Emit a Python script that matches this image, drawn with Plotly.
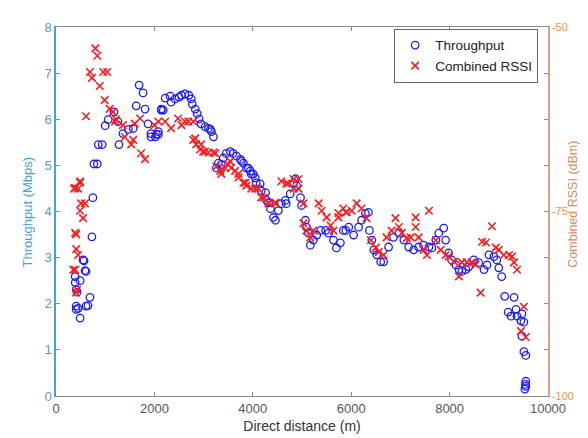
import plotly.graph_objects as go

# Throughput (Mbps) vs direct distance (m)
tp_dist = [390, 390, 410, 430, 410, 410, 450, 490, 490, 550, 570, 590, 610, 610, 650, 690, 730, 750,
           770, 840, 860, 940, 1000, 1060, 1180, 1260, 1280, 1360, 1470, 1570, 1630, 1690, 1770, 1810,
           1870, 1930, 1930, 2020, 2040, 2080, 2080, 2140, 2140, 2180, 2220, 2320, 2340, 2420, 2500,
           2550, 2620, 2700, 2750, 2770, 2830, 2870, 2910, 2950, 3030, 3100, 3140, 3160, 3200, 3260,
           3300, 3360, 3400, 3460, 3540, 3600, 3670, 3750, 3770, 3810, 3870, 3910, 3950, 3970, 4010,
           4050, 4070, 4150, 4170, 4260, 4280, 4320, 4360, 4420, 4460, 4520, 4580, 4660, 4680, 4760,
           4830, 4870, 4890, 4970, 4990, 5070, 5090, 5130, 5170, 5230, 5300, 5380, 5480, 5540, 5640,
           5700, 5780, 5840, 5890, 5950, 6050, 6150, 6210, 6290, 6350, 6370, 6420, 6460, 6520, 6600,
           6660, 6760, 6860, 6970, 7070, 7170, 7270, 7370, 7470, 7580, 7640, 7720, 7780, 7880, 7920,
           7980, 8040, 8130, 8190, 8250, 8330, 8390, 8490, 8590, 8700, 8760, 8800, 8900, 8960, 9000,
           9060, 9120, 9190, 9250, 9310, 9350, 9370, 9450, 9470, 9470, 9510, 9510, 9550, 9550, 9550,
           9530, 9540]
tp_mbps = [2.59, 2.46, 2.31, 2.25, 1.95, 1.88, 1.90, 1.69, 2.50, 2.95, 2.93, 2.72, 2.70, 1.95, 1.96,
           2.14, 3.45, 4.30, 5.03, 5.03, 5.45, 5.45, 5.86, 5.99, 6.16, 5.95, 5.45, 5.69, 5.78, 5.80,
           6.29, 6.74, 6.57, 6.22, 5.90, 5.69, 5.62, 5.62, 5.67, 5.73, 5.67, 6.22, 6.20, 6.20, 6.46,
           6.50, 6.37, 6.44, 6.48, 6.52, 6.55, 6.52, 6.44, 6.33, 6.22, 6.12, 6.01, 5.90, 5.84, 5.80,
           5.78, 5.73, 5.62, 4.94, 5.05, 5.02, 5.16, 5.26, 5.30, 5.26, 5.20, 5.13, 5.09, 5.05, 4.94,
           4.94, 4.88, 4.81, 4.81, 4.73, 4.62, 4.60, 4.45, 4.41, 4.24, 4.19, 4.06, 3.87, 3.81, 4.02,
           4.17, 4.24, 4.17, 4.38, 4.62, 4.71, 4.56, 4.30, 4.13, 3.81, 3.66, 3.53, 3.27, 3.38, 3.49,
           3.59, 3.59, 3.53, 3.38, 3.21, 3.32, 3.59, 3.59, 3.66, 3.49, 3.66, 3.81, 3.96, 3.98, 3.59,
           3.38, 3.17, 3.06, 2.91, 2.91, 3.23, 3.44, 3.53, 3.38, 3.23, 3.17, 3.23, 3.27, 3.23, 3.21,
           3.38, 3.53, 3.64, 3.38, 3.10, 2.95, 2.84, 2.74, 2.70, 2.74, 2.80, 2.95, 2.89, 2.74, 2.84,
           3.06, 3.02, 2.95, 2.78, 2.59, 2.16, 1.82, 1.73, 2.14, 1.88, 1.73, 1.63, 1.78, 1.30, 1.60,
           0.96, 0.88, 0.32, 0.21, 0.15, 0.25]

# Combined RSSI (dBm) vs direct distance (m)
rssi_dist = [350, 370, 390, 390, 390, 410, 410, 410, 430, 450, 450, 490, 490, 490, 510, 550, 590,
             610, 690, 730, 800, 840, 890, 960, 990, 1040, 1090, 1160, 1200, 1220, 1360, 1400, 1530,
             1570, 1600, 1710, 1730, 1810, 2000, 2080, 2220, 2340, 2480, 2550, 2620, 2690, 2790, 2790,
             2830, 2850, 2930, 2950, 2990, 3030, 3100, 3200, 3240, 3260, 3340, 3360, 3440, 3500, 3540,
             3560, 3640, 3710, 3710, 3810, 3850, 3870, 3970, 4050, 4110, 4170, 4220, 4320, 4320, 4460,
             4460, 4580, 4680, 4720, 4830, 4830, 4930, 4930, 5030, 5030, 5090, 5170, 5230, 5340, 5400,
             5500, 5580, 5640, 5740, 5740, 5840, 5890, 5910, 6010, 6110, 6210, 6310, 6400, 6500, 6560,
             6660, 6720, 6820, 6900, 6970, 7030, 7130, 7210, 7310, 7310, 7370, 7470, 7540, 7580, 7720,
             7820, 7920, 7980, 8090, 8190, 8250, 8350, 8450, 8530, 8630, 8660, 8740, 8860, 8940, 9000,
             9100, 9210, 9270, 9310, 9370, 9450, 9510, 9550]
rssi_dbm = [-82.9, -71.9, -71.8, -77.9, -82.9, -78.1, -80.1, -86.0, -85.6, -71.9, -80.9, -71.1, -70.9,
            -74.9, -73.9, -75.9, -73.9, -62.1, -56.1, -56.9, -52.9, -53.9, -58.0, -56.1, -59.9, -56.1,
            -61.1, -61.5, -62.8, -62.5, -63.3, -64.9, -65.9, -65.3, -63.1, -62.4, -67.1, -67.9, -63.3,
            -62.8, -62.8, -63.7, -62.4, -63.3, -62.8, -62.8, -62.8, -65.3, -65.1, -65.9, -66.6, -65.9,
            -66.9, -66.9, -67.0, -67.0, -67.1, -68.9, -69.5, -69.9, -69.1, -68.6, -68.2, -69.1, -69.5,
            -70.4, -69.9, -71.1, -71.1, -71.5, -71.9, -71.9, -71.9, -73.1, -73.1, -73.9, -73.8, -73.9,
            -73.8, -70.9, -71.2, -71.2, -71.9, -70.6, -70.6, -71.9, -73.9, -76.6, -77.6, -78.5, -77.6,
            -73.9, -74.9, -75.8, -76.9, -77.6, -75.2, -75.8, -74.6, -75.1, -75.1, -74.9, -73.9, -74.6,
            -75.9, -78.9, -79.9, -80.5, -80.9, -78.5, -77.6, -75.9, -77.1, -77.9, -78.6, -78.5, -77.1,
            -75.8, -78.5, -80.2, -80.9, -74.9, -78.9, -80.2, -80.9, -81.1, -81.8, -83.8, -81.9, -81.9,
            -81.9, -82.2, -86.0, -79.1, -79.2, -77.0, -79.9, -80.2, -80.9, -80.9, -81.1, -81.9, -82.9,
            -91.2, -87.9, -92.0]

x_ticks = [0, 2000, 4000, 6000, 8000, 10000]
x_ticktext = ["0", "2000", "4000", "6000", "8000", "10000"]
y_ticks = [0, 1, 2, 3, 4, 5, 6, 7, 8]
rssi_ticks = [-100, -93.75, -87.5, -81.25, -75, -68.75, -62.5, -56.25, -50]
rssi_ticktext = ["-100", "", "", "", "-75", "", "", "", "-50"]

BLUE_AX = "#4a9fd8"
ORANGE_AX = "#e0a080"
ORANGE_TXT = "#f2923c"
GRAY = "#555555"

fig = go.Figure()
fig.add_trace(go.Scatter(
    x=tp_dist, y=tp_mbps, mode="markers", name="Throughput",
    marker=dict(symbol="circle-open", size=7.5, color="#1a1aff", line=dict(width=1.3, color="#1a1aff")),
))
fig.add_trace(go.Scatter(
    x=rssi_dist, y=rssi_dbm, mode="markers", name="Combined RSSI", yaxis="y2",
    marker=dict(symbol="x-thin", size=7.5, color="#ff1a1a", line=dict(width=1.6, color="#ff1a1a")),
))

font_family = "Liberation Sans, Arial, sans-serif"
fig.update_layout(
    width=588, height=438,
    margin=dict(l=48, r=48, t=14, b=50),
    paper_bgcolor="white", plot_bgcolor="white",
    font=dict(family=font_family),
    showlegend=True,
    legend=dict(
        x=0.98, y=0.995, xanchor="right", yanchor="top",
        bgcolor="white", bordercolor="#666666", borderwidth=1,
        font=dict(size=13.5, color="#222222"),
        itemwidth=30, tracegroupgap=0,
    ),
    xaxis=dict(
        range=[0, 10000], tickvals=x_ticks, ticktext=x_ticktext, ticks="inside", ticklen=4,
        showline=True, linecolor="#8a8a8a", linewidth=1, mirror="ticks",
        tickcolor="#8a8a8a", showgrid=False, zeroline=False,
        tickfont=dict(size=13, color=GRAY),
        title=dict(text="Direct distance (m)", font=dict(size=14, color="#333333"), standoff=6),
    ),
    yaxis=dict(
        range=[0, 8], tickvals=y_ticks, ticks="inside", ticklen=4,
        showline=True, linecolor=BLUE_AX, linewidth=1.5, tickcolor=BLUE_AX,
        showgrid=False, zeroline=False,
        tickfont=dict(size=13, color=BLUE_AX),
    ),
    yaxis2=dict(
        range=[-100, -50], overlaying="y", side="right",
        tickvals=rssi_ticks, ticktext=rssi_ticktext, ticks="inside", ticklen=4,
        showline=True, linecolor=ORANGE_AX, linewidth=1.5, tickcolor=BLUE_AX,
        showgrid=False, zeroline=False,
        tickfont=dict(size=11, color=ORANGE_TXT),
    ),
    annotations=[
        dict(text="Throughput (Mbps)", xref="paper", yref="paper", x=-0.057, y=0.5,
             textangle=-90, showarrow=False, xanchor="center", yanchor="middle",
             font=dict(size=13, color=BLUE_AX)),
        dict(text="Combined RSSI (dBm)", xref="paper", yref="paper", x=1.052, y=0.52,
             textangle=-90, showarrow=False, xanchor="center", yanchor="middle",
             font=dict(size=12.5, color="#d98a5a")),
    ],
)

fig.write_html("out.html")
